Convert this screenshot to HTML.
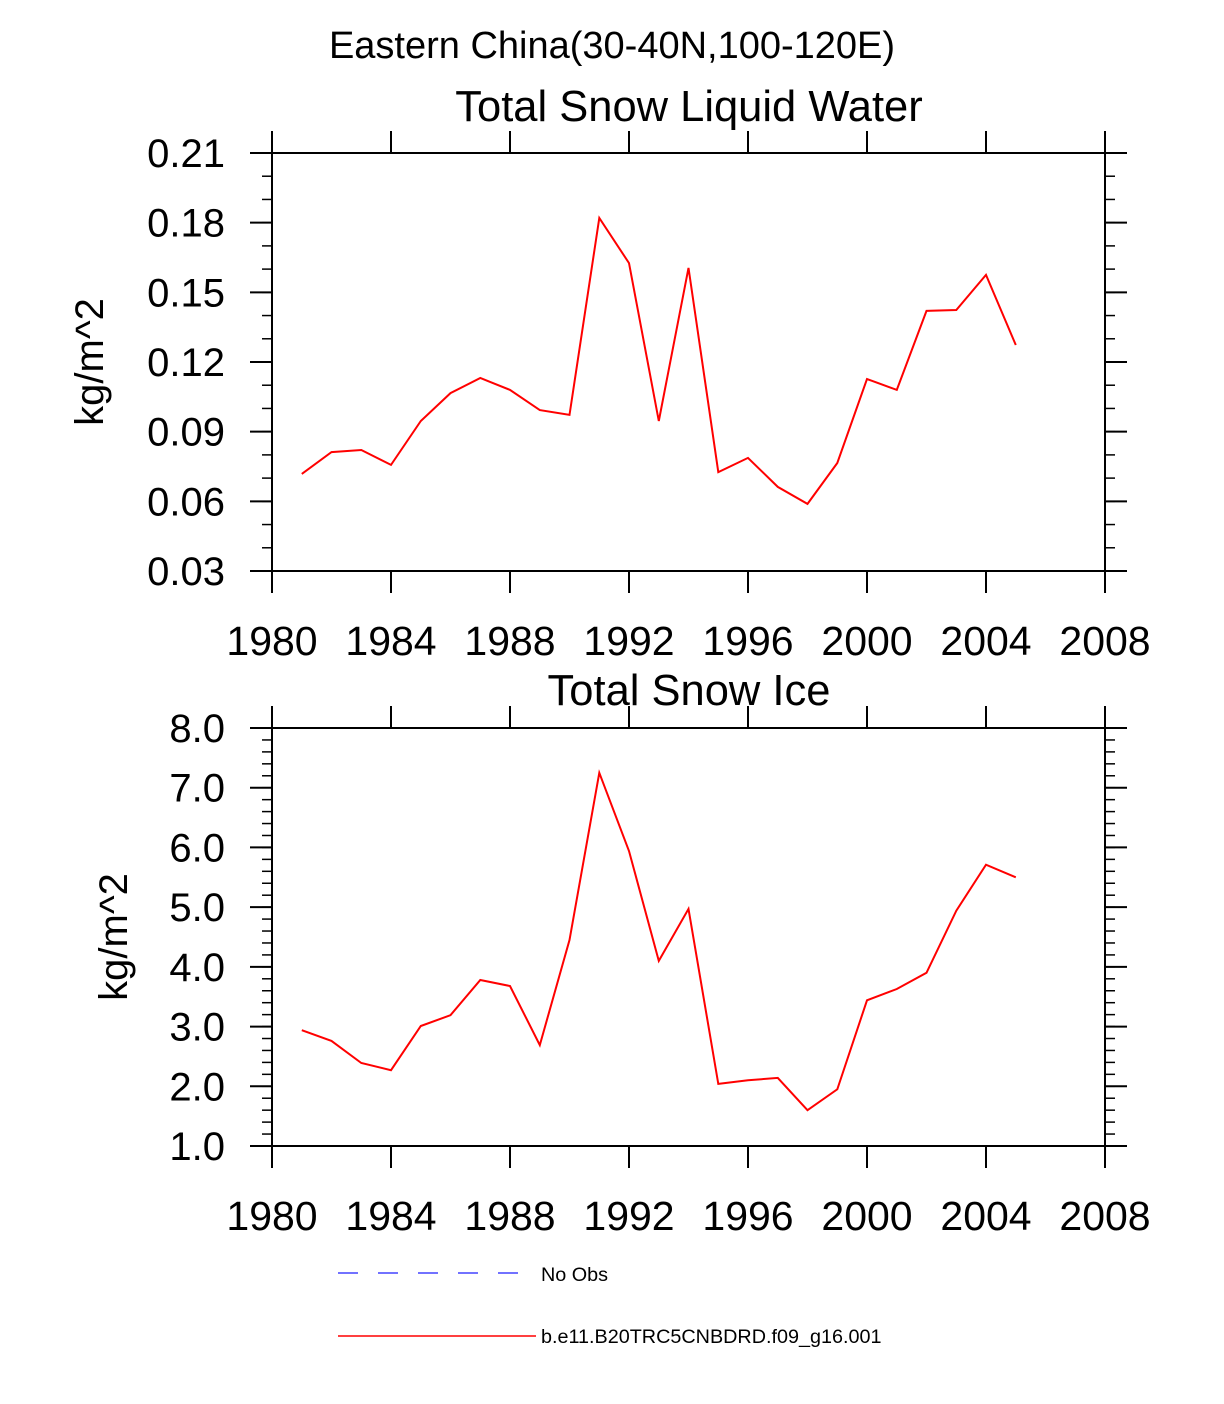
<!DOCTYPE html>
<html><head><meta charset="utf-8"><style>
html,body{margin:0;padding:0;background:#fff;}
svg{display:block;font-family:"Liberation Sans",sans-serif;}
</style></head><body>
<svg id="c" width="1224" height="1404" viewBox="0 0 1224 1404"></svg>
<script>
const years=[1981,1982,1983,1984,1985,1986,1987,1988,1989,1990,1991,1992,1993,1994,1995,1996,1997,1998,1999,2000,2001,2002,2003,2004,2005];
const liquidWater=[0.0718,0.0812,0.0821,0.0757,0.0946,0.1066,0.1131,0.108,0.0993,0.0972,0.182,0.1626,0.0946,0.1605,0.0726,0.0787,0.0662,0.0589,0.0765,0.1127,0.108,0.142,0.1424,0.1575,0.1273];
const snowIce=[2.94,2.76,2.39,2.27,3.01,3.19,3.78,3.68,2.69,4.45,7.25,5.94,4.10,4.97,2.04,2.10,2.14,1.60,1.95,3.44,3.63,3.90,4.94,5.71,5.50];
const xTicks=[1980,1984,1988,1992,1996,2000,2004,2008];
const topYTicks=["0.03","0.06","0.09","0.12","0.15","0.18","0.21"];
const botYTicks=["1.0","2.0","3.0","4.0","5.0","6.0","7.0","8.0"];

const NS="http://www.w3.org/2000/svg";
const svg=document.getElementById('c');
function mk(tag,attrs,parent){const e=document.createElementNS(NS,tag);for(const k in attrs)e.setAttribute(k,attrs[k]);(parent||svg).appendChild(e);return e;}
function txt(s,x,y,size,anchor,parent){const t=mk('text',{x:x,y:y,'font-size':size,'text-anchor':anchor||'middle',fill:'#000'},parent);t.textContent=s;return t;}

const X0=272,X1=1105,xMin=1980,xMax=2008;
function xs(v){return X0+(v-xMin)/(xMax-xMin)*(X1-X0);}

function panel(name,top,bottom,yMin,yMax,yTickLabels,minorStep,values,title,titleY){
  const g=mk('g',{});
  
  
  function ys(v){return bottom-(v-yMin)/(yMax-yMin)*(bottom-top);}
  const nMinor=Math.round((yMax-yMin)/minorStep);
  for(let i=0;i<=nMinor;i++){
    const y=ys(yMin+i*minorStep);
    mk('line',{x1:X0-10,y1:y,x2:X0,y2:y,stroke:'#000','stroke-width':1.5},g);
    mk('line',{x1:X1,y1:y,x2:X1+10,y2:y,stroke:'#000','stroke-width':1.5},g);
  }
  yTickLabels.forEach(l=>{
    const y=ys(parseFloat(l));
    mk('line',{x1:X0-22,y1:y,x2:X0,y2:y,stroke:'#000','stroke-width':2},g);
    mk('line',{x1:X1,y1:y,x2:X1+22,y2:y,stroke:'#000','stroke-width':2},g);
    const t=txt(l,X0-47,y+14,40,'end',g);
    
    
  });
  xTicks.forEach(v=>{
    const x=xs(v);
    mk('line',{x1:x,y1:top-22,x2:x,y2:top,stroke:'#000','stroke-width':2},g);
    mk('line',{x1:x,y1:bottom,x2:x,y2:bottom+22,stroke:'#000','stroke-width':2},g);
    const t=txt(String(v),x,bottom+84,41,'middle',g);
    
    
  });
  const box=mk('rect',{x:X0,y:top,width:X1-X0,height:bottom-top,fill:'none',stroke:'#000','stroke-width':2},g);
  
  
  const pts=years.map((yr,i)=>xs(yr).toFixed(1)+','+ys(values[i]).toFixed(1)).join(' ');
  const line=mk('polyline',{points:pts,fill:'none',stroke:'#ff0000','stroke-width':2},g);
  
  
  const tt=txt(title,689,titleY,43.5,'middle',g);
  
  
  const yl=txt('kg/m^2',0,0,40,'middle',g);
  yl.setAttribute('transform','translate('+(name==='top'?103:127)+','+((top+bottom)/2)+') rotate(-90)');
  
  
}
panel('top',153,571,0.03,0.21,topYTicks,0.01,liquidWater,'Total Snow Liquid Water',121);
panel('bottom',728,1146,1.0,8.0,botYTicks,0.2,snowIce,'Total Snow Ice',705);

const mt=txt('Eastern China(30-40N,100-120E)',612,58,38,'middle');



const l1=mk('line',{x1:338,y1:1273,x2:530,y2:1273,stroke:'#4444ff','stroke-width':1.5,'stroke-dasharray':'20,20'});


const lt1=txt('No Obs',541,1281,19.8,'start');


const l2=mk('line',{x1:338,y1:1336,x2:536,y2:1336,stroke:'#ff0000','stroke-width':1.5});


const lt2=txt('b.e11.B20TRC5CNBDRD.f09_g16.001',541,1343,19.8,'start');


</script>
</body></html>
